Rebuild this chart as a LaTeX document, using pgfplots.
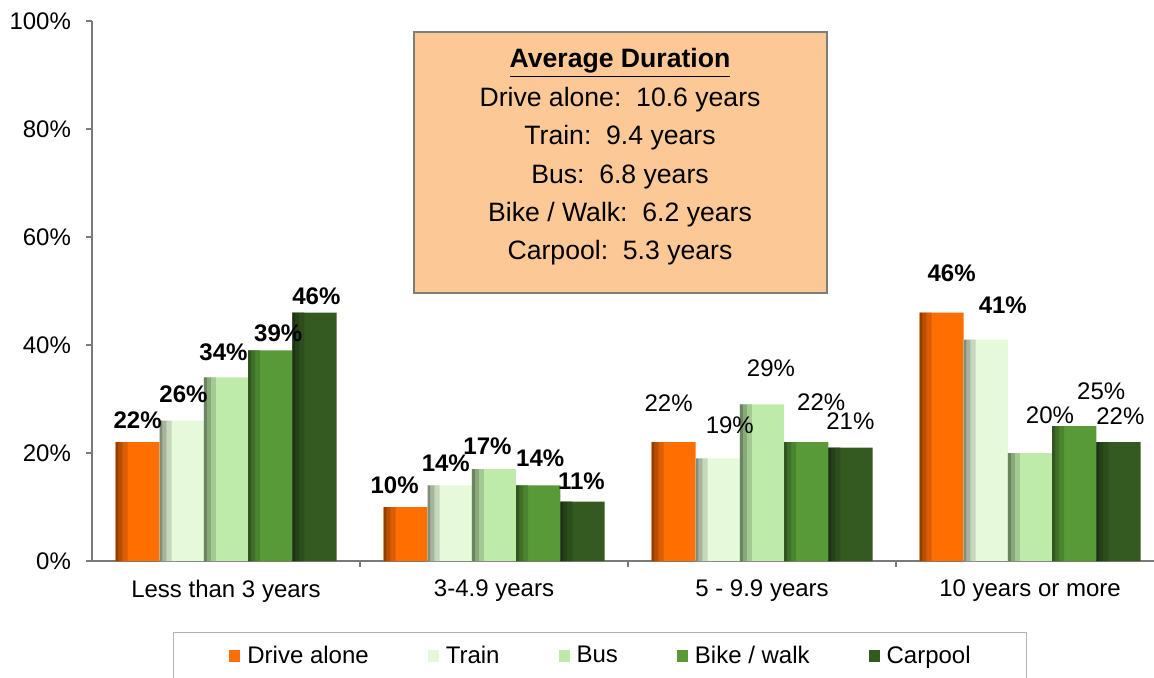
\documentclass[border=0pt]{standalone}
\usepackage{pgfplots}
\usepackage{pgfplotstable}
\pgfplotsset{compat=1.18}
\usepackage{fontspec}
\setmainfont{Liberation Sans}

\definecolor{cOr}{HTML}{FF6E00}
\definecolor{cTr}{HTML}{E6FADB}
\definecolor{cBu}{HTML}{BEEBAA}
\definecolor{cBi}{HTML}{579A37}
\definecolor{cCa}{HTML}{345A22}
\definecolor{axgray}{HTML}{7A7A7A}
\definecolor{boxfill}{HTML}{FCC996}
\definecolor{boxdraw}{HTML}{7B7F78}

% x = category, y = value, b = bold label, dx/dy = label offset (px)
\pgfplotstableread{
x y  b dx   dy
0 22 1 0    22
1 10 1 -11  21.5
2 22 0 -5   38.7
3 46 1 10   39
}\tDrive
\pgfplotstableread{
x y  b dx   dy
0 26 1 1.7  26.6
1 14 1 -4   22
2 19 0 12   33
3 41 1 17   34.6
}\tTrain
\pgfplotstableread{
x y  b dx   dy
0 34 1 -2.5 25
1 17 1 -6.5 22.7
2 29 0 9    36
3 20 0 20   38
}\tBus
\pgfplotstableread{
x y  b dx   dy
0 39 1 8    17
1 14 1 2    27
2 22 0 15   40
3 25 0 27   35
}\tBike
\pgfplotstableread{
x y  b dx   dy
0 46 1 2    16.6
1 11 1 -1   20
2 21 0 0    26.6
3 22 0 2    26
}\tCarpool

\newcommand\tfont{\fontsize{12pt}{14.4pt}\selectfont}
\newcommand\bfont{\fontsize{13.3pt}{16pt}\selectfont}

\pgfplotsset{
  lbl/.style={
    nodes near coords={\ifdim\lbb pt>0.5pt\bfseries\fi\pgfmathprintnumber{\pgfplotspointmeta}\%},
    nodes near coords style={anchor=center, xshift=\lbdx*0.5pt, yshift=\lbdy*0.5pt, font=\tfont, text=black, inner sep=0pt},
  },
}
% shaded left edge of the bars (same data, narrow strips)
\newcommand\edges[5]{%
  \addplot[forget plot, draw=none, fill=#2!86!black, bar width=2.5pt, bar shift=#5pt] table[x=x,y=y]{#1};
  \addplot[forget plot, draw=none, fill=#2!72!black, bar width=2pt, bar shift=#4pt] table[x=x,y=y]{#1};
  \addplot[forget plot, draw=none, fill=#2!56!black, bar width=1.5pt, bar shift=#3pt] table[x=x,y=y]{#1};
}

\begin{document}
\begin{tikzpicture}
\begin{scope}
\clip (0,0) rectangle (577pt,338.5pt);
\begin{axis}[
  at={(46pt,58pt)}, anchor=south west,
  scale only axis, width=536pt, height=270pt,
  xmin=-0.5, xmax=3.5, ymin=0, ymax=100,
  enlarge x limits=false,
  axis lines=left,
  axis line style={-, draw=axgray, line width=0.9pt},
  clip=false,
  ybar=0pt, bar width=22.1pt,
  tick align=outside,
  major tick length=3pt,
  ytick={0,20,40,60,80,100},
  yticklabel={\pgfmathprintnumber{\tick}\%},
  yticklabel style={xshift=-4pt},
  xtick={0,1,2,3},
  xticklabels={Less than 3 years, 3-4.9 years, 5 - 9.9 years, 10 years or more},
  extra x ticks={0.5,1.5,2.5},
  extra x tick labels={},
  tick style={draw=axgray, line width=0.8pt},
  xtick style={draw=none},
  extra x tick style={xtick style={draw=axgray, line width=0.8pt}},
  xticklabel style={yshift=-3pt},
  tick label style={font=\tfont, text=black},
  /pgf/number format/assume math mode=true,
  visualization depends on={\thisrow{b}\as\lbb},
  visualization depends on={\thisrow{dx}\as\lbdx},
  visualization depends on={\thisrow{dy}\as\lbdy},
  legend columns=5,
  legend style={at={(0.4739,-0.1315)}, anchor=north,
    draw=gray!60, line width=0.6pt, fill=white,
    inner xsep=28pt, inner ysep=4.5pt,
    font=\tfont,
    nodes={inner xsep=0pt, inner ysep=2pt},
    /tikz/every odd column/.append style={column sep=3.5pt},
    /tikz/every even column/.append style={column sep=29.5pt}},
  legend image code/.code={\path[#1, draw=none] (0pt,-2.9pt) rectangle (5.5pt,2.9pt);},
]
\addplot[draw=none, fill=cOr, bar shift=-44.2pt, lbl] table[x=x,y=y] {\tDrive};
\addlegendentry{Drive alone}
\addplot[draw=none, fill=cTr, bar shift=-22.1pt, lbl] table[x=x,y=y] {\tTrain};
\addlegendentry{Train}
\addplot[draw=none, fill=cBu, bar shift=0pt, lbl] table[x=x,y=y] {\tBus};
\addlegendentry{Bus}
\addplot[draw=none, fill=cBi, bar shift=22.1pt, lbl] table[x=x,y=y] {\tBike};
\addlegendentry{Bike / walk}
\addplot[draw=none, fill=cCa, bar shift=44.2pt, lbl] table[x=x,y=y] {\tCarpool};
\addlegendentry{Carpool}
\edges{\tDrive}{cOr}{-54.5}{-52.75}{-50.5}
\edges{\tTrain}{cTr}{-32.4}{-30.65}{-28.4}
\edges{\tBus}{cBu}{-10.3}{-8.55}{-6.3}
\edges{\tBike}{cBi}{11.8}{13.55}{15.8}
\edges{\tCarpool}{cCa}{33.9}{35.65}{37.9}
\end{axis}
\path[fill=boxfill, draw=boxdraw, line width=1pt] (207pt,192pt) rectangle (413.5pt,322.5pt);
\node[font=\bfont, inner sep=0pt] at (310pt,307pt) {\underline{\textbf{Average Duration}}};
\node[font=\bfont] at (310pt,288.5pt) {Drive alone:\ \ 10.6 years};
\node[font=\bfont] at (310pt,269.5pt) {Train:\ \ 9.4 years};
\node[font=\bfont] at (310pt,250pt) {Bus:\ \ 6.8 years};
\node[font=\bfont] at (310pt,231pt) {Bike / Walk:\ \ 6.2 years};
\node[font=\bfont] at (310pt,212pt) {Carpool:\ \ 5.3 years};
\end{scope}
\pgfresetboundingbox
\path (0,0) rectangle (577pt,338.5pt);
\end{tikzpicture}
\end{document}
